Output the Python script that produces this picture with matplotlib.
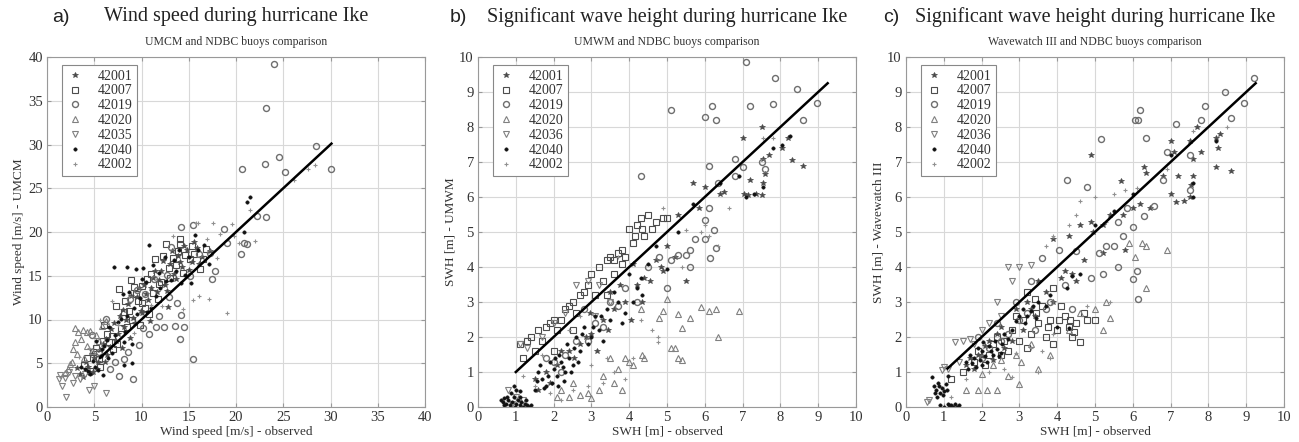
import matplotlib
matplotlib.use("Agg")
import matplotlib.pyplot as plt
import numpy as np

plt.rcParams['font.family'] = ['Liberation Serif', 'DejaVu Serif']

# ---- panel a: wind speed (observed, UMCM) ----
wind_42001 = [(3.2, 4.5), (4.1, 5.2), (4.8, 6.1), (5.3, 4.4), (5.9, 7.2), (6.4, 6.0), (6.8, 8.9), (7.3, 7.5),
              (7.7, 10.4), (8.2, 9.1), (8.6, 11.8), (9.1, 10.2), (9.5, 12.6), (9.9, 11.0), (10.3, 13.9),
              (10.7, 12.2), (11.2, 14.8), (11.6, 13.1), (12.1, 15.6), (12.5, 14.0), (13.0, 16.4), (13.4, 15.2),
              (13.9, 17.3), (14.3, 16.0), (14.8, 17.9), (15.3, 16.6), (15.9, 18.2), (16.4, 17.1), (17.2, 17.8),
              (4.6, 3.9), (6.1, 5.1), (7.9, 6.7), (8.8, 7.9), (10.9, 9.8), (12.8, 11.4),
              (3.5, 3.8), (4.3, 4.6), (5.0, 5.6), (5.6, 6.5), (6.2, 7.8), (6.7, 6.9), (7.1, 9.6), (7.5, 8.3),
              (8.0, 11.1), (8.4, 10.0), (8.9, 12.7), (9.3, 9.6), (9.7, 13.6), (10.1, 10.7), (10.5, 12.9),
              (11.0, 13.6), (11.4, 15.6), (11.9, 14.5), (12.3, 16.7), (12.7, 13.3), (13.2, 17.8), (13.6, 14.6),
              (14.1, 16.6), (14.5, 18.4), (15.0, 15.7), (15.6, 18.9), (16.1, 16.4), (5.4, 5.1), (3.8, 3.4),
              (4.9, 4.0)]
wind_42007 = [(3.9, 4.8), (4.5, 4.1), (5.2, 6.8), (5.9, 7.5), (6.3, 8.4), (6.9, 8.1), (7.3, 11.6), (7.6, 13.5),
              (8.1, 10.9), (8.5, 9.2), (8.9, 14.5), (9.0, 10.0), (9.4, 12.9), (9.6, 12.1), (10.1, 13.8),
              (10.4, 11.3), (10.8, 10.6), (11.0, 15.2), (11.4, 16.9), (11.8, 14.1), (12.1, 14.3), (12.6, 18.6),
              (12.9, 15.9), (13.3, 17.0), (13.6, 16.2), (14.1, 19.2), (14.1, 18.6), (14.6, 17.4), (15.1, 16.9),
              (15.6, 17.5), (16.2, 15.8), (16.8, 18.1), (11.7, 12.4), (9.8, 9.4), (7.0, 6.6),
              (4.2, 5.6), (4.9, 6.3), (5.5, 5.5), (6.0, 9.4), (6.6, 7.4), (7.8, 9.0), (8.3, 12.1), (8.7, 11.0),
              (9.2, 13.7), (10.0, 11.9), (10.6, 14.6), (11.2, 13.0), (12.3, 17.3), (13.0, 14.8), (13.9, 17.8),
              (14.4, 15.3), (15.3, 18.4), (16.5, 16.9), (5.6, 4.6), (7.4, 7.2)]
wind_42019 = [(24.0, 39.2), (23.2, 34.2), (23.1, 27.8), (24.5, 28.6), (25.2, 26.9), (28.5, 29.8), (30.1, 27.2),
              (20.6, 27.2), (23.2, 21.7), (20.8, 18.7), (21.2, 18.6), (17.5, 14.6), (15.5, 5.5), (14.1, 7.8),
              (14.2, 10.5), (13.8, 11.9), (12.4, 9.1), (13.5, 9.3), (11.5, 9.1), (14.5, 9.2), (9.5, 13.4),
              (8.8, 12.4), (10.4, 12.9), (12.7, 15.1), (11.3, 14.6), (16.1, 17.5), (17.8, 15.5), (19.1, 18.7),
              (20.5, 17.5), (22.2, 21.8), (17.3, 17.6), (18.7, 20.4), (14.2, 20.6), (15.4, 20.8), (13.1, 18.3),
              (10.2, 9.0), (8.1, 5.5), (6.7, 4.4), (9.1, 3.2), (7.6, 3.5), (5.5, 6.3), (4.8, 8.2), (6.2, 10.1),
              (7.2, 5.2), (8.6, 6.3), (9.7, 7.1), (10.8, 8.3), (11.9, 10.4), (12.9, 12.6), (15.1, 15.0)]
wind_42020 = [(3.0, 9.0), (3.3, 8.6), (3.8, 8.8), (4.2, 8.6), (4.6, 8.7), (3.0, 7.4), (2.8, 6.6), (4.2, 7.0),
              (3.6, 7.8), (5.8, 9.3), (6.2, 9.8), (2.6, 5.1), (2.2, 4.3), (3.2, 6.1), (4.8, 6.4), (5.2, 8.2),
              (3.9, 5.6), (2.4, 4.9), (1.9, 3.9), (5.5, 7.6)]
wind_42035 = [(2.0, 1.2), (1.6, 2.4), (1.3, 3.2), (4.4, 1.9), (3.0, 3.5), (2.3, 4.0), (3.5, 3.2), (1.4, 3.7),
              (5.0, 2.4), (4.0, 3.8), (6.2, 1.6), (2.7, 2.8), (1.9, 3.3)]
wind_42040 = [(7.1, 16.0), (8.5, 16.0), (9.4, 15.8), (10.2, 15.9), (10.8, 18.5), (11.2, 16.2), (12.5, 17.1),
              (14.0, 17.9), (15.7, 19.7), (16.6, 18.5), (17.1, 16.3), (20.8, 20.0), (21.5, 24.0), (21.2, 23.4),
              (9.0, 7.2), (8.5, 10.4), (6.6, 9.1), (5.2, 7.5), (4.3, 4.1), (3.6, 4.6), (4.9, 5.3), (5.7, 5.8),
              (6.0, 7.0), (7.2, 8.2), (7.8, 10.1), (8.3, 8.6), (9.2, 11.3), (9.8, 12.5), (10.6, 10.9),
              (11.5, 12.7), (12.0, 13.6), (13.1, 14.5), (13.7, 15.6), (14.6, 15.1), (15.2, 14.2), (10.5, 14.3),
              (8.0, 12.9), (5.1, 4.6), (4.0, 4.3), (6.5, 5.6),
              (4.5, 3.8), (5.4, 4.2), (5.8, 6.6), (6.3, 7.7), (6.9, 6.2), (7.5, 9.7), (8.1, 7.4), (8.7, 13.2),
              (9.5, 10.6), (10.0, 14.6), (11.0, 11.3), (11.8, 15.3), (12.6, 14.4), (13.4, 16.8), (14.2, 14.2),
              (15.0, 17.2), (16.0, 17.9), (9.0, 5.0), (8.2, 4.8), (5.9, 3.7)]
wind_42002 = [(17.6, 21.0), (17.1, 12.4), (16.1, 12.7), (15.4, 12.2), (14.4, 11.2), (19.0, 10.8), (21.5, 22.5),
              (22.0, 19.0), (18.3, 19.8), (16.0, 21.0), (15.8, 21.0), (19.6, 20.9), (20.3, 18.7), (13.3, 19.6),
              (26.1, 25.9), (27.6, 27.2), (28.4, 27.7), (12.2, 11.5), (11.0, 11.7), (9.2, 8.5), (7.5, 9.4),
              (6.9, 12.1), (5.6, 10.0), (4.4, 6.7), (3.4, 5.7), (18.0, 17.0), (19.8, 19.6), (16.9, 19.2)]
wind_fit = [5.6, 30.1]

# ---- panel b: SWH (observed, UMWM) ----
umwm_42001 = [(5.7, 6.4), (6.0, 6.3), (7.0, 7.7), (7.5, 8.0), (8.2, 7.7), (8.6, 6.9), (8.05, 7.4), (7.2, 6.5),
              (7.5, 6.05), (7.35, 6.1), (7.05, 6.1), (7.15, 6.05), (8.3, 7.05), (7.7, 7.2), (7.55, 6.4),
              (7.6, 6.65), (7.55, 7.1), (6.5, 6.15), (6.4, 6.1), (5.85, 5.7), (5.3, 5.5), (5.0, 4.6), (4.7, 4.2),
              (4.4, 3.7), (4.2, 3.5), (3.9, 3.0), (3.6, 2.8), (3.3, 2.5), (3.0, 2.1), (2.7, 1.8), (2.4, 1.6),
              (2.1, 1.2), (1.8, 1.0), (1.5, 0.8), (4.9, 3.9), (5.2, 4.3), (5.5, 3.6), (4.1, 4.1),
              (1.6, 0.5), (1.9, 0.7), (2.2, 1.6), (2.55, 1.4), (2.85, 2.0), (3.15, 1.6), (3.45, 2.2), (3.75, 3.5),
              (4.05, 2.5), (4.35, 3.0), (4.55, 3.6), (4.85, 4.0), (3.5, 3.3), (2.95, 2.7)]
umwm_42007 = [(1.1, 1.8), (1.3, 1.9), (1.6, 2.2), (1.8, 2.3), (2.0, 2.5), (2.3, 2.8), (2.5, 3.0), (2.8, 3.3),
              (3.0, 3.8), (3.2, 4.0), (3.3, 3.6), (3.5, 4.3), (3.7, 4.4), (3.9, 4.3), (4.0, 5.1), (4.2, 5.2),
              (4.3, 5.4), (4.5, 5.5), (4.6, 5.1), (4.4, 4.9), (3.6, 4.2), (2.7, 3.2), (2.2, 2.5), (1.5, 1.6),
              (3.4, 3.2), (4.7, 5.3), (4.9, 5.4), (5.0, 5.4), (4.1, 4.7), (3.8, 4.5),
              (1.2, 1.4), (1.4, 2.0), (1.7, 1.9), (1.9, 2.4), (2.1, 2.2), (2.4, 2.9), (2.6, 2.7), (2.9, 3.5),
              (3.1, 3.2), (3.4, 4.2), (3.6, 3.8), (3.8, 4.1), (4.15, 4.9), (4.35, 5.1), (2.0, 1.6), (2.5, 2.2)]
umwm_42019 = [(4.3, 6.6), (5.1, 8.5), (6.0, 8.3), (6.2, 8.6), (6.3, 8.2), (7.1, 9.85), (7.85, 9.4), (7.2, 8.6),
              (8.98, 8.7), (8.6, 8.2), (8.45, 9.1), (7.8, 8.65), (6.8, 7.1), (6.1, 6.9), (6.35, 6.4), (5.6, 4.5),
              (5.5, 4.35), (5.3, 4.35), (5.1, 4.2), (5.75, 4.8), (6.0, 5.35), (6.1, 5.7), (6.25, 5.05),
              (6.0, 4.8), (6.3, 4.55), (6.15, 4.25), (5.6, 4.0), (4.8, 4.3), (5.0, 3.4), (6.8, 6.6), (7.0, 6.85),
              (7.5, 7.0), (7.6, 6.8), (3.3, 2.3), (3.7, 2.9), (2.9, 1.9), (2.3, 1.5),
              (2.0, 1.3), (2.6, 1.9), (3.1, 2.4), (3.5, 3.0), (3.9, 3.4), (4.2, 3.0), (4.5, 4.0), (2.2, 1.0),
              (1.8, 1.4), (2.8, 2.8)]
umwm_42020 = [(2.4, 0.3), (3.0, 0.25), (3.8, 0.5), (3.9, 1.4), (4.0, 1.3), (4.4, 1.4), (4.35, 1.5), (5.2, 1.7),
              (5.1, 1.7), (5.3, 1.4), (5.4, 1.35), (4.9, 2.75), (5.0, 3.1), (5.3, 2.65), (5.4, 2.25), (5.6, 2.55),
              (5.9, 2.85), (6.1, 2.75), (6.3, 2.8), (6.35, 2.0), (6.9, 2.75), (4.3, 2.8), (4.8, 2.55), (3.5, 1.4),
              (2.1, 0.3), (2.7, 0.35), (3.7, 1.1), (4.1, 1.2), (2.2, 0.5), (2.5, 0.7), (2.9, 0.4), (3.2, 0.5),
              (3.6, 0.7), (3.3, 0.9)]
umwm_42036 = [(2.6, 3.5), (2.9, 3.6), (3.2, 3.5), (2.0, 2.4), (2.3, 2.7), (1.7, 2.0), (1.1, 1.8), (1.3, 1.7),
              (0.9, 0.1), (1.0, 0.3), (1.2, 0.2), (0.8, 0.5), (3.5, 3.0), (3.1, 2.6)]
umwm_42040 = [(0.6, 0.2), (0.65, 0.15), (0.7, 0.25), (0.75, 0.1), (0.8, 0.2), (0.85, 0.05), (0.9, 0.15),
              (0.95, 0.3), (1.0, 0.1), (1.0, 0.5), (1.05, 0.2), (1.1, 0.05), (1.15, 0.15), (1.2, 0.0), (1.25, 0.1),
              (1.3, 0.05), (1.35, 0.0), (0.95, 0.6), (1.1, 0.45), (1.4, 0.05), (1.5, 0.5), (1.6, 1.0), (1.7, 0.8),
              (1.8, 0.6), (1.9, 1.3), (2.0, 1.1), (2.1, 0.9), (2.15, 1.5), (2.2, 1.3), (2.3, 1.0), (2.35, 1.8),
              (2.4, 1.4), (2.5, 1.2), (2.6, 2.0), (2.7, 1.6), (2.8, 2.3), (3.0, 2.0), (3.1, 2.6), (3.2, 2.2),
              (3.4, 2.8), (3.6, 3.3), (3.8, 2.4), (4.0, 3.8), (4.2, 3.4), (4.3, 3.7), (4.5, 4.1), (4.7, 4.6),
              (5.0, 3.95), (5.3, 5.0), (5.7, 5.8), (6.4, 6.4), (7.1, 6.0), (7.55, 6.3), (7.8, 7.4), (8.05, 7.5),
              (8.25, 7.75), (7.3, 6.1), (6.9, 6.6),
              (1.55, 0.75), (1.65, 1.2), (1.75, 0.55), (1.85, 0.9), (1.95, 0.7), (2.05, 1.4), (2.12, 0.6),
              (2.25, 1.15), (2.28, 0.75), (2.45, 1.0), (2.55, 1.7), (2.65, 1.3), (2.75, 2.1), (2.9, 1.8),
              (3.05, 2.3), (3.25, 2.6), (3.3, 1.9), (3.5, 2.5), (3.7, 3.0), (3.9, 2.7), (4.1, 3.0), (4.35, 3.2),
              (0.7, 0.05), (0.78, 0.3), (0.88, 0.4), (1.12, 0.3), (1.28, 0.2), (0.98, 0.0)]
umwm_42002 = [(1.5, 0.6), (1.9, 0.4), (2.2, 0.2), (2.5, 0.5), (2.9, 0.6), (3.3, 0.7), (3.6, 1.0), (3.9, 0.8),
              (4.1, 1.4), (4.6, 2.2), (4.75, 2.0), (4.75, 1.85), (4.3, 2.5), (3.4, 1.4), (3.0, 1.2), (2.4, 2.2),
              (2.7, 2.6), (5.5, 5.05), (5.9, 5.0), (6.1, 4.9), (6.35, 4.6), (6.65, 5.7), (7.8, 7.7), (7.55, 7.7),
              (5.4, 4.0), (6.0, 5.2), (1.2, 0.9), (1.7, 1.5), (4.9, 5.7), (3.7, 4.3)]
umwm_fit = [1.0, 9.25]

# ---- panel c: SWH (observed, Wavewatch III) ----
ww3_42001 = [(7.0, 7.6), (7.1, 7.3), (7.2, 6.6), (7.0, 6.1), (7.15, 5.85), (7.35, 5.9), (7.5, 6.0), (7.55, 6.35),
             (7.6, 6.6), (7.6, 7.1), (8.2, 6.85), (8.25, 7.4), (8.2, 7.7), (8.6, 6.75), (7.7, 8.0), (7.5, 7.6),
             (6.3, 6.85), (6.35, 6.7), (6.2, 5.8), (6.45, 5.7), (5.7, 6.45), (5.75, 5.5), (5.4, 5.5), (5.2, 5.2),
             (4.9, 5.3), (4.95, 5.0), (4.6, 5.2), (4.3, 4.9), (4.9, 7.2), (3.9, 4.8), (3.5, 3.6), (3.2, 3.0),
             (2.9, 2.8), (2.5, 2.3), (2.2, 1.9), (1.9, 1.5), (1.6, 1.2), (4.4, 3.8), (4.1, 3.7), (5.2, 4.4),
             (5.8, 4.5), (6.0, 5.7), (7.8, 7.3), (8.3, 7.8), (6.8, 6.6),
             (1.7, 1.4), (1.8, 1.1), (2.0, 1.45), (2.1, 1.75), (2.3, 1.35), (2.6, 1.7), (2.8, 1.9), (3.1, 2.2),
             (3.4, 2.6), (3.7, 3.3), (3.9, 3.0), (4.2, 3.9), (4.5, 3.6), (4.7, 4.2), (3.3, 2.8), (2.4, 2.1)]
ww3_42007 = [(2.2, 1.5), (2.6, 1.9), (3.0, 1.9), (3.3, 2.1), (3.5, 2.4), (3.7, 2.0), (3.8, 2.5), (4.0, 2.2),
             (4.2, 2.6), (4.4, 2.0), (4.5, 2.4), (4.6, 1.85), (3.9, 1.8), (4.8, 2.5), (5.0, 2.5), (4.3, 2.3),
             (3.6, 2.9), (3.1, 2.5), (2.8, 2.2), (2.4, 2.0), (1.8, 1.3), (1.5, 1.0), (1.2, 0.8), (3.4, 3.1),
             (4.1, 2.9), (4.7, 2.7), (3.2, 3.3), (2.9, 2.6),
             (1.9, 1.6), (2.1, 1.2), (2.3, 1.8), (2.7, 1.6), (3.2, 1.7), (3.45, 2.7), (3.75, 2.3), (4.05, 2.5),
             (4.35, 2.5), (4.45, 2.15), (2.5, 1.5), (3.9, 3.4)]
ww3_42019 = [(4.25, 6.5), (4.8, 6.3), (5.15, 7.65), (6.05, 8.2), (6.15, 8.2), (6.2, 8.5), (6.35, 7.7), (7.15, 8.1),
             (7.8, 8.2), (8.45, 9.0), (8.95, 8.7), (9.2, 9.4), (8.6, 8.25), (7.9, 8.6), (7.5, 7.2), (7.5, 6.2),
             (6.8, 6.5), (6.55, 5.75), (6.3, 5.45), (6.0, 5.15), (5.85, 5.7), (5.75, 4.9), (5.6, 5.3), (5.5, 4.6),
             (5.6, 4.0), (6.0, 3.65), (6.15, 3.1), (6.1, 3.9), (5.3, 4.6), (5.1, 4.4), (4.5, 4.45), (4.05, 4.5),
             (3.6, 4.25), (3.3, 3.6), (2.9, 3.0), (3.0, 2.5), (2.5, 1.9), (3.7, 2.8), (4.9, 3.7), (5.2, 3.8),
             (6.9, 7.3), (2.0, 1.4), (2.2, 1.7), (2.7, 2.1), (3.2, 2.7), (3.4, 2.2), (3.8, 3.0), (4.2, 3.5),
             (4.4, 2.8), (2.4, 2.4), (1.9, 2.0)]
ww3_42020 = [(1.6, 0.5), (1.9, 0.5), (2.15, 0.5), (2.4, 0.5), (2.7, 0.9), (3.0, 0.65), (2.9, 1.5), (2.5, 1.35),
             (2.3, 1.2), (3.3, 1.8), (3.8, 1.5), (4.3, 2.2), (5.0, 2.8), (5.2, 2.2), (5.3, 3.0), (5.4, 2.55),
             (5.9, 4.7), (6.25, 4.7), (6.35, 4.6), (6.35, 3.4), (6.05, 4.3), (6.9, 4.5), (3.5, 1.1), (3.05, 1.3),
             (4.6, 2.7), (2.0, 0.95)]
ww3_42036 = [(2.7, 4.0), (3.0, 4.0), (3.3, 4.05), (2.4, 3.0), (1.3, 1.85), (1.5, 1.9), (1.7, 1.95), (1.0, 1.15),
             (1.1, 1.1), (0.95, 1.05), (2.0, 2.2), (2.8, 3.6), (0.55, 0.15), (0.6, 0.2), (1.4, 1.3), (1.8, 1.8),
             (2.2, 2.4), (2.5, 2.6)]
ww3_42040 = [(0.7, 0.85), (0.75, 0.6), (0.8, 0.5), (0.85, 0.7), (0.9, 0.4), (0.95, 0.55), (1.0, 0.45), (1.05, 0.65),
             (0.9, 0.05), (1.0, 0.0), (1.1, 0.1), (1.2, 0.05), (1.3, 0.1), (1.4, 0.05), (1.25, 0.0), (1.6, 1.3),
             (1.7, 1.5), (1.8, 1.4), (1.9, 1.7), (2.0, 1.6), (2.1, 1.45), (2.2, 1.75), (2.3, 1.5), (2.4, 1.65),
             (2.5, 1.55), (2.0, 1.2), (1.85, 1.15), (2.6, 2.1), (2.9, 2.45), (3.1, 2.8), (3.2, 2.6), (3.3, 2.75),
             (3.5, 3.0), (3.8, 3.2), (4.0, 2.3), (4.3, 2.25), (4.4, 3.75), (4.25, 3.4), (4.6, 3.8), (5.0, 5.2),
             (5.5, 5.6), (6.0, 6.1), (7.0, 7.2), (7.6, 6.4), (7.6, 6.0), (8.2, 7.6), (1.1, 0.9), (2.35, 1.9),
             (1.65, 1.1), (1.75, 1.25), (1.95, 1.35), (2.05, 1.85), (2.15, 1.3), (2.25, 1.6), (2.45, 1.45),
             (2.55, 1.8), (2.7, 1.95), (2.8, 2.2), (3.0, 2.6), (3.15, 2.4), (3.35, 2.9), (3.45, 2.55), (3.7, 2.9),
             (0.78, 0.4), (0.88, 0.6), (0.98, 0.35), (1.08, 0.5), (0.82, 0.3), (1.15, 0.05), (1.35, 0.0)]
ww3_42002 = [(4.3, 5.2), (4.6, 5.9), (3.9, 4.9), (3.7, 4.6), (4.5, 5.5), (5.0, 6.0), (5.5, 6.1), (5.8, 6.2),
             (6.1, 6.25), (5.3, 5.3), (2.9, 1.55), (3.3, 1.7), (3.6, 1.6), (3.8, 1.4), (3.5, 1.0), (2.6, 1.1),
             (2.8, 0.85), (1.2, 0.3), (1.6, 0.8), (2.2, 1.0), (4.8, 2.9), (5.4, 3.0), (3.9, 2.1), (6.9, 6.8),
             (7.6, 7.9), (8.5, 8.0)]
ww3_fit = [1.1, 9.25]

# marker style per station
styles = {
    '42001': dict(marker='*', mfc='#4a4a4a', mec='#4a4a4a', ms=3.8, mew=0.5),
    '42007': dict(marker='s', mfc='none', mec='#4d4d4d', ms=3.8, mew=0.8),
    '42019': dict(marker='o', mfc='none', mec='#6e6e6e', ms=4.3, mew=1.0),
    '42020': dict(marker='^', mfc='none', mec='#808080', ms=3.8, mew=0.8),
    '42035': dict(marker='v', mfc='none', mec='#808080', ms=3.8, mew=0.8),
    '42036': dict(marker='v', mfc='none', mec='#808080', ms=3.8, mew=0.8),
    '42040': dict(marker='.', mfc='#111111', mec='#111111', ms=5.0, mew=0.3),
    '42002': dict(marker='+', mfc='#909090', mec='#909090', ms=3.2, mew=0.8),
}

panels = [
    dict(series=[('42001', wind_42001), ('42007', wind_42007), ('42019', wind_42019), ('42020', wind_42020),
                 ('42035', wind_42035), ('42040', wind_42040), ('42002', wind_42002)],
         fit=wind_fit, lim=40, step=5, letter='a)', letter_x=52,
         title='Wind speed during hurricane Ike', sub='UMCM and NDBC buoys comparison',
         xlabel='Wind speed [m/s] - observed', ylabel='Wind speed [m/s] - UMCM', left=47),
    dict(series=[('42001', umwm_42001), ('42007', umwm_42007), ('42019', umwm_42019), ('42020', umwm_42020),
                 ('42036', umwm_42036), ('42040', umwm_42040), ('42002', umwm_42002)],
         fit=umwm_fit, lim=10, step=1, letter='b)', letter_x=450,
         title='Significant wave height during hurricane Ike', sub='UMWM and NDBC buoys comparison',
         xlabel='SWH [m] - observed', ylabel='SWH [m] - UMWM', left=478),
    dict(series=[('42001', ww3_42001), ('42007', ww3_42007), ('42019', ww3_42019), ('42020', ww3_42020),
                 ('42036', ww3_42036), ('42040', ww3_42040), ('42002', ww3_42002)],
         fit=ww3_fit, lim=10, step=1, letter='c)', letter_x=883,
         title='Significant wave height during hurricane Ike', sub='Wavewatch III and NDBC buoys comparison',
         xlabel='SWH [m] - observed', ylabel='SWH [m] - Wavewatch III', left=906),
]

W, H = 1299, 442
fig = plt.figure(figsize=(W / 100, H / 100), dpi=100)

for p in panels:
    ax = fig.add_axes([p['left'] / W, 35 / H, 378 / W, 350 / H])
    for name, pts in p['series']:
        pts = np.array(pts)
        ax.plot(pts[:, 0], pts[:, 1], linestyle='none', label=name, **styles[name])
    ax.plot(p['fit'], p['fit'], '-', color='black', lw=1.8)

    ax.set_xlim(0, p['lim'])
    ax.set_ylim(0, p['lim'])
    ticks = np.arange(0, p['lim'] + 0.1, p['step'])
    ax.set_xticks(ticks)
    ax.set_yticks(ticks)
    ax.set_xticklabels([f'{t:g}' for t in ticks])
    ax.set_yticklabels([f'{t:g}' for t in ticks])
    ax.grid(True, color='#d8d8d8', lw=0.8)
    ax.set_axisbelow(True)
    ax.tick_params(direction='in', length=3, top=True, right=True, labelsize=10.5,
                   color='#999999', labelcolor='#333333', pad=3)
    for s in ax.spines.values():
        s.set_color('#999999')
        s.set_linewidth(0.8)
    ax.set_xlabel(p['xlabel'], fontsize=9.5, color='#333333', labelpad=1)
    ax.set_ylabel(p['ylabel'], fontsize=9.5, color='#333333', labelpad=2)

    leg = ax.legend(loc='upper left', bbox_to_anchor=(0.04, 0.978), fontsize=10, frameon=True, fancybox=False,
                    edgecolor='#888888', framealpha=1, borderpad=0.35, labelspacing=0.13, handlelength=1.2,
                    handletextpad=1.0, borderaxespad=0)
    leg.get_frame().set_linewidth(0.8)
    for t in leg.get_texts():
        t.set_color('#333333')

    cx = (p['left'] + 189) / W
    fig.text(cx, 1 - 17 / H, p['title'], ha='center', va='center', fontsize=14.5, color='#222222')
    fig.text(cx, 1 - 42 / H, p['sub'], ha='center', va='center', fontsize=8.5, color='#333333')
    fig.text(p['letter_x'] / W, 1 - 17 / H, p['letter'], ha='left', va='center', fontsize=14,
             family=['Liberation Sans', 'DejaVu Sans'], color='#222222')

fig.savefig('out.png', dpi=100)
